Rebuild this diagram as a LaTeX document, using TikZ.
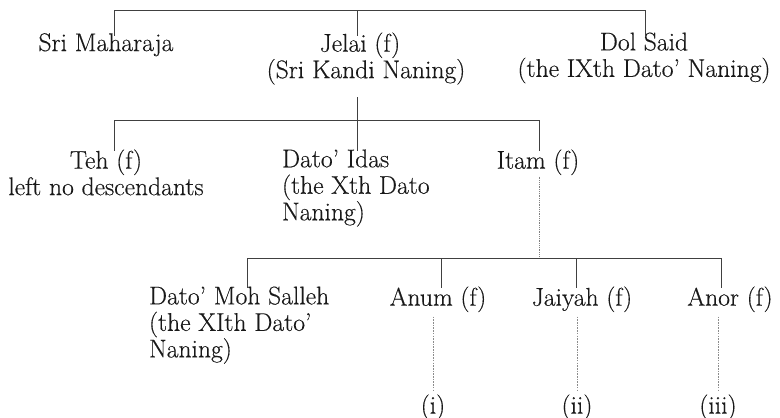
\documentclass[tikz,border=0pt]{standalone}
\usepackage{fontspec}
\setmainfont{Latin Modern Roman}[FakeBold=0.35]
\begin{document}
\begin{tikzpicture}[x=1pt,y=-1pt,
  lbl/.style={inner sep=0pt,outer sep=0pt,text=black!90,
    font=\fontsize{25.6}{26.5}\selectfont,execute at begin node=\strut},
  lblc/.style={lbl,anchor=north,align=center},
  lbll/.style={lbl,anchor=north west,align=left},
  bar/.style={draw=black!75,line width=0.8pt},
  tick/.style={bar,shorten >=-3pt},
  faint/.style={draw=black!45,line width=0.6pt,dash pattern=on 1.6pt off 1.1pt}]
\useasboundingbox (0,0) rectangle (780,418);
% ---------- generation 1 ----------
\node[lblc] (sri) at (106,32.5) {Sri Maharaja};
\node[lblc] (jelai) at (360,32.5) {Jelai (f)\\\hspace*{12pt}(Sri Kandi Naning)};
\node[lblc] (dol) at (644,32.5) {Dol Said\\(the IXth Dato' Naning)};
\coordinate (j1a) at (114,10);
\coordinate (j1b) at (357,10);
\coordinate (j1c) at (645,10);
\draw[bar] (j1a) -- (j1c);
\draw[tick] (j1a) -- (j1a |- sri.north);
\draw[tick] (j1b) -- (j1b |- jelai.north);
\draw[tick] (j1c) -- (j1c |- dol.north);
% ---------- generation 2 ----------
\coordinate (j2a) at (114,120);
\coordinate (j2b) at (357,120);
\coordinate (j2c) at (539,120);
\draw[bar,shorten >=11pt] (j2b) -- (j2b |- jelai.south);
\draw[bar] (j2a) -- (j2c);
\node[lblc] (teh) at (106,149.5) {Teh (f)\\left no descendants};
\node[lbll] (idas) at (282,149.5) {Dato' Idas\\(the Xth Dato\\Naning)};
\node[lblc] (itam) at (538,149.5) {Itam (f)};
\draw[tick,shorten >=-1pt] (j2a) -- (j2a |- teh.north);
\draw[tick,shorten >=-1pt] (j2b) -- (j2b |- idas.north);
\draw[tick,shorten >=-1pt] (j2c) -- (j2c |- itam.north);
% ---------- generation 3 ----------
\coordinate (j3a) at (247,258);
\coordinate (j3b) at (441,258);
\coordinate (j3c) at (576,258);
\coordinate (j3d) at (721,258);
\draw[faint,dash pattern=on 1pt off 0.8pt,draw=black!50] (itam.south -| j2c) -- (j2c |- j3a);
\draw[bar] (j3a) -- (j3d);
\node[lbll] (moh) at (149,286.5) {Dato' Moh Salleh\\(the XIth Dato'\\Naning)};
\node[lblc] (anum) at (438,286.5) {Anum (f)};
\node[lblc] (jaiyah) at (582,286.5) {Jaiyah (f)};
\node[lblc] (anor) at (730,286.5) {Anor (f)};
\draw[tick,shorten >=-1pt] (j3a) -- (j3a |- moh.north);
\draw[tick,shorten >=-1pt] (j3b) -- (j3b |- anum.north);
\draw[tick,shorten >=-1pt] (j3c) -- (j3c |- jaiyah.north);
\draw[tick,shorten >=-1pt] (j3d) -- (j3d |- anor.north);
% ---------- descendants ----------
\node[lblc] (r1) at (433,394.5) {(i)};
\node[lblc] (r2) at (577,394.5) {(ii)};
\node[lblc] (r3) at (718,394.5) {(iii)};
\draw[faint,shorten <=3pt,shorten >=4pt] (anum.south -| r1) -- (r1.north);
\draw[faint,shorten <=3pt,shorten >=4pt] (jaiyah.south -| r2) -- (r2.north);
\draw[faint,shorten <=3pt,shorten >=4pt] (anor.south -| r3) -- (r3.north);
\end{tikzpicture}
\end{document}
